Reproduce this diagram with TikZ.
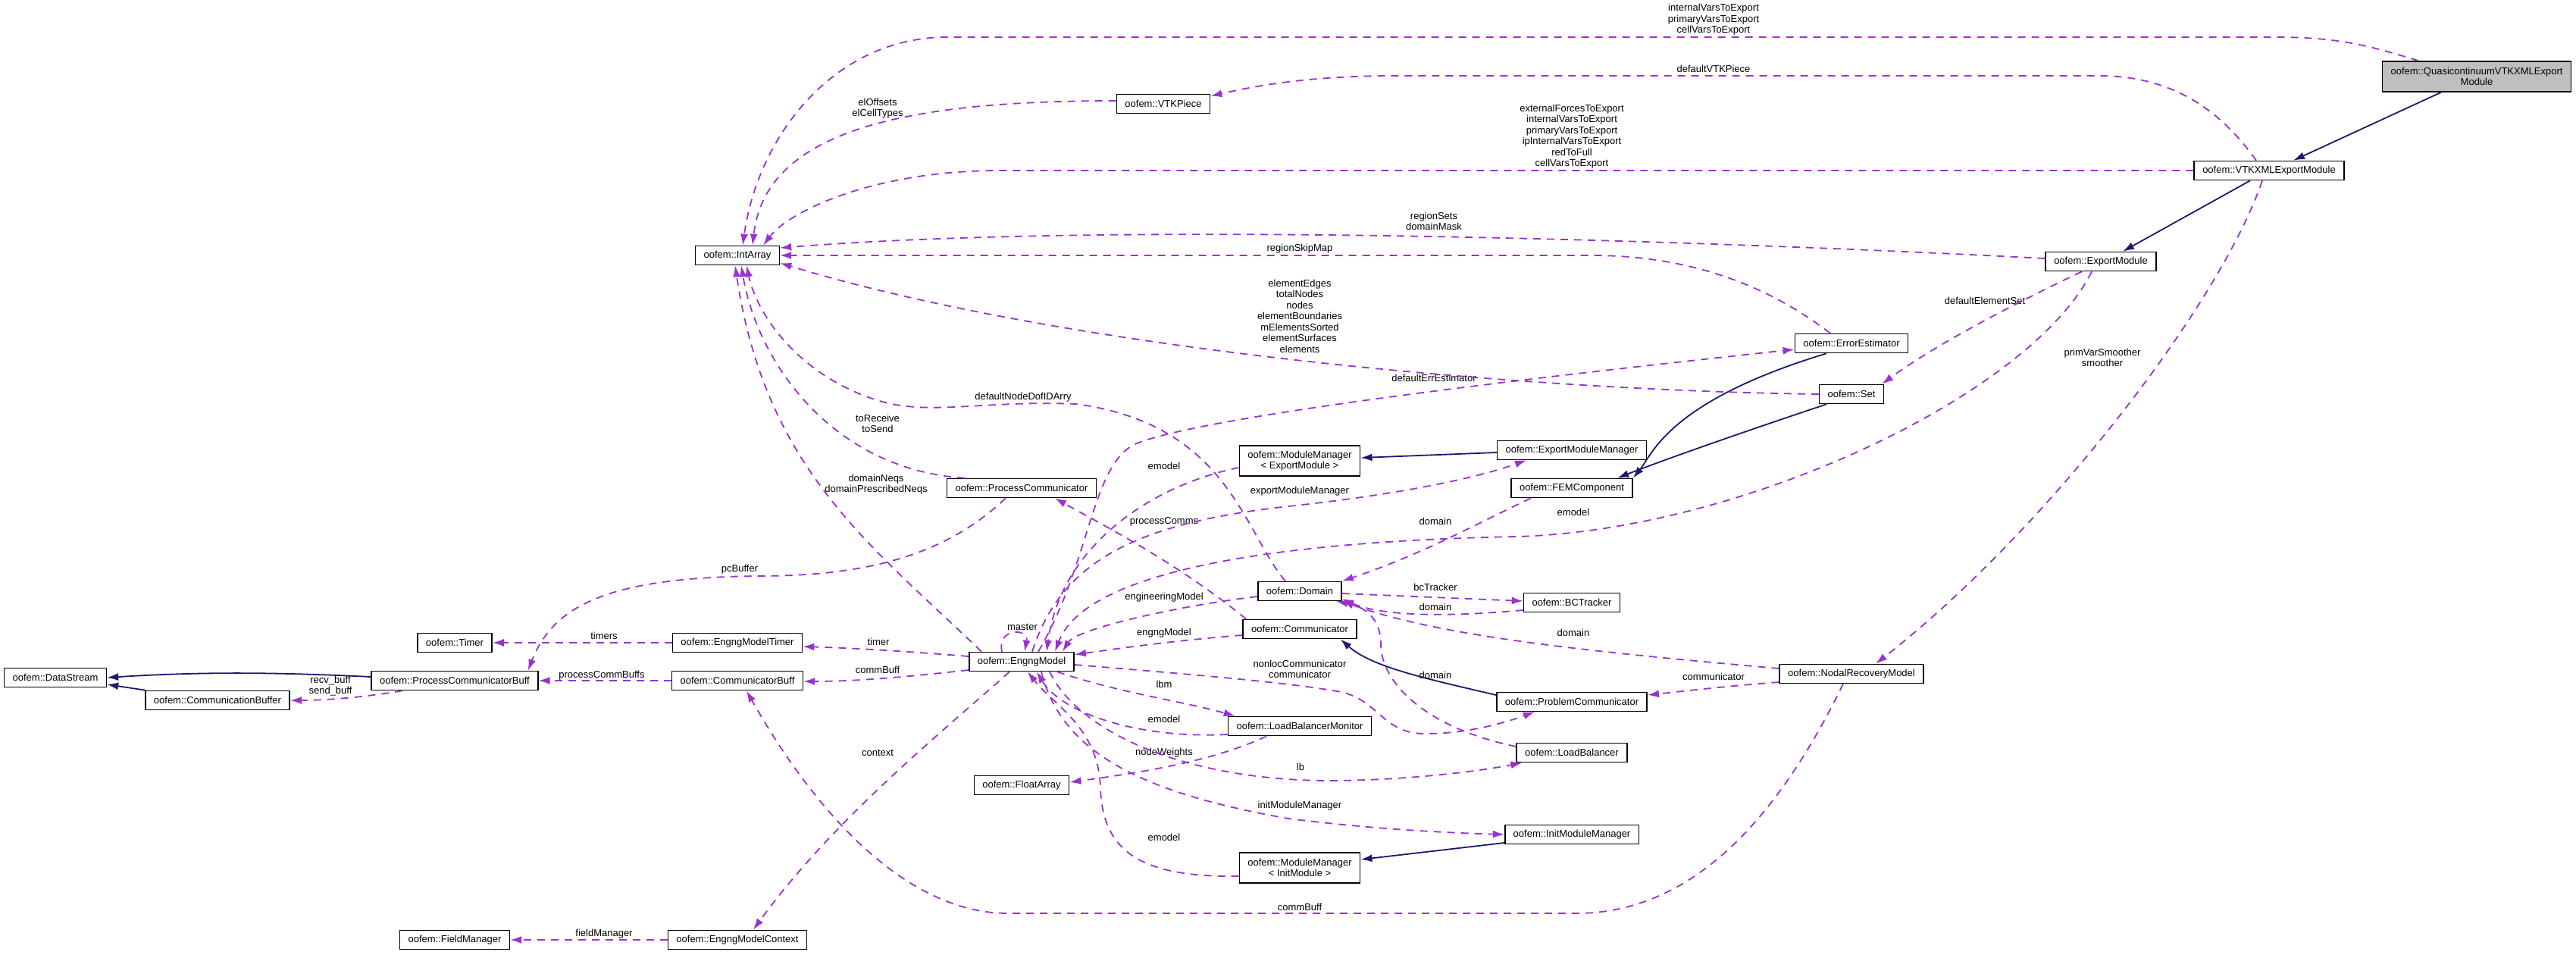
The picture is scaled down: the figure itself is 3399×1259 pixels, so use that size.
\documentclass[tikz,border=0pt]{standalone}
\usepackage{fontspec}
\setmainfont{Liberation Sans}
\usetikzlibrary{arrows.meta, positioning}
\definecolor{usecol}{HTML}{9A32CD}
\definecolor{inhcol}{HTML}{191970}
\definecolor{focusgrey}{HTML}{BFBFBF}

\begin{document}
\begin{tikzpicture}[x=0.5pt, y=-0.5pt]
\tikzstyle{cls}=[rectangle, draw=black, line width=0.8pt, fill=white, inner xsep=5.5pt, inner ysep=0pt, minimum height=12.5pt, align=center, font=\fontsize{6.5}{7.25}\selectfont]
\tikzstyle{lbl}=[inner sep=0pt, align=center, font=\fontsize{6.5}{7.25}\selectfont]
\tikzstyle{usage}=[-{Latex[length=7.5pt, width=5pt]}, dash pattern=on 5pt off 4pt, draw=usecol, line width=0.9pt]
\tikzstyle{inherit}=[-{Latex[length=7.5pt, width=5pt]}, draw=inhcol, line width=0.9pt]
\useasboundingbox (0,0) rectangle (3399,1259);

    \node[cls, fill=focusgrey, minimum height=20pt] (quasi) at (3268,101) {oofem::QuasicontinuumVTKXMLExport\\Module};
    \node[cls] (vtkxml) at (2994,225) {oofem::VTKXMLExportModule};
    \node[cls] (exportmod) at (2772,345) {oofem::ExportModule};
    \node[cls] (vtkpiece) at (1535,137) {oofem::VTKPiece};
    \node[cls] (intarray) at (973,337) {oofem::IntArray};
    \node[cls] (errest) at (2443,453) {oofem::ErrorEstimator};
    \node[cls] (set) at (2443,520) {oofem::Set};
    \node[cls] (expmodmgr) at (2074,594) {oofem::ExportModuleManager};
    \node[cls, minimum height=20pt] (modmgrexp) at (1715,608) {oofem::ModuleManager\\< ExportModule >};
    \node[cls] (femcomp) at (2074,644) {oofem::FEMComponent};
    \node[cls] (proccomm) at (1348,644) {oofem::ProcessCommunicator};
    \node[cls] (domain) at (1715,780) {oofem::Domain};
    \node[cls] (bctracker) at (2074,795) {oofem::BCTracker};
    \node[cls] (communicator) at (1715,830) {oofem::Communicator};
    \node[cls] (nodalrec) at (2443,889) {oofem::NodalRecoveryModel};
    \node[cls] (probcomm) at (2074,926) {oofem::ProblemCommunicator};
    \node[cls] (timer) at (600,848) {oofem::Timer};
    \node[cls] (engngtimer) at (973,848) {oofem::EngngModelTimer};
    \node[cls] (engng) at (1348,873) {oofem::EngngModel};
    \node[cls] (datastream) at (73,894) {oofem::DataStream};
    \node[cls] (pcbuff) at (600,898) {oofem::ProcessCommunicatorBuff};
    \node[cls] (commbuff) at (973,898) {oofem::CommunicatorBuff};
    \node[cls] (commbuffer) at (287,924) {oofem::CommunicationBuffer};
    \node[cls] (lbmonitor) at (1715,958) {oofem::LoadBalancerMonitor};
    \node[cls] (loadbal) at (2074,993) {oofem::LoadBalancer};
    \node[cls] (floatarray) at (1348,1036) {oofem::FloatArray};
    \node[cls] (initmodmgr) at (2074,1101) {oofem::InitModuleManager};
    \node[cls, minimum height=20pt] (modmgrinit) at (1715,1145) {oofem::ModuleManager\\< InitModule >};
    \node[cls] (fieldmgr) at (600,1240) {oofem::FieldManager};
    \node[cls] (engngctx) at (973,1240) {oofem::EngngModelContext};

    \node[lbl] (l-quasi) at (2261,26) {internalVarsToExport\\primaryVarsToExport\\cellVarsToExport};
    \node[lbl] (l-piece) at (2261,91) {defaultVTKPiece};
    \node[lbl] (l-elcell) at (1158,143) {elOffsets\\elCellTypes};
    \node[lbl] (l-vtkxml) at (2074,180) {externalForcesToExport\\internalVarsToExport\\primaryVarsToExport\\ipInternalVarsToExport\\redToFull\\cellVarsToExport};
    \node[lbl] (l-region) at (1892,292) {regionSets\\domainMask};
    \node[lbl] (l-skip) at (1715,328) {regionSkipMap};
    \node[lbl] (l-setmembers) at (1715,417) {elementEdges\\totalNodes\\nodes\\elementBoundaries\\mElementsSorted\\elementSurfaces\\elements};
    \node[lbl] (l-elset) at (2619,397) {defaultElementSet};
    \node[lbl] (l-errest) at (1892,499) {defaultErrEstimator};
    \node[lbl] (l-smoother) at (2774,472) {primVarSmoother\\smoother};
    \node[lbl] (l-dofid) at (1350,524) {defaultNodeDofIDArry};
    \node[lbl] (l-torecv) at (1158,559) {toReceive\\toSend};
    \node[lbl] (l-emodel1) at (1536,615) {emodel};
    \node[lbl] (l-neqs) at (1156,639) {domainNeqs\\domainPrescribedNeqs};
    \node[lbl] (l-expmgr) at (1715,648) {exportModuleManager};
    \node[lbl] (l-emodel2) at (2076,676) {emodel};
    \node[lbl] (l-domain1) at (1894,688) {domain};
    \node[lbl] (l-comms) at (1536,688) {processComms};
    \node[lbl] (l-pcbuffer) at (976,751) {pcBuffer};
    \node[lbl] (l-bctracker) at (1894,775) {bcTracker};
    \node[lbl] (l-engmodel) at (1536,788) {engineeringModel};
    \node[lbl] (l-domain2) at (1894,801) {domain};
    \node[lbl] (l-master) at (1349,827) {master};
    \node[lbl] (l-engngmodel) at (1536,835) {engngModel};
    \node[lbl] (l-domain3) at (2076,835) {domain};
    \node[lbl] (l-timers) at (797,839) {timers};
    \node[lbl] (l-timer) at (1159,847) {timer};
    \node[lbl] (l-commbuff1) at (1158,884) {commBuff};
    \node[lbl] (l-pcbuffs) at (794,891) {processCommBuffs};
    \node[lbl] (l-nonloc) at (1715,883) {nonlocCommunicator\\communicator};
    \node[lbl] (l-domain4) at (1894,891) {domain};
    \node[lbl] (l-communicator) at (2261,893) {communicator};
    \node[lbl] (l-lbm) at (1536,903) {lbm};
    \node[lbl] (l-buffs) at (436,905) {recv\_buff\\send\_buff};
    \node[lbl] (l-emodel3) at (1536,949) {emodel};
    \node[lbl] (l-context) at (1158,993) {context};
    \node[lbl] (l-weights) at (1536,993) {nodeWeights};
    \node[lbl] (l-lb) at (1716,1012) {lb};
    \node[lbl] (l-initmgr) at (1715,1063) {initModuleManager};
    \node[lbl] (l-emodel4) at (1536,1105) {emodel};
    \node[lbl] (l-commbuff2) at (1715,1197) {commBuff};
    \node[lbl] (l-fieldmgr) at (797,1232) {fieldManager};

    % inheritance
    \draw[inherit] ([xshift=-23.5pt]quasi.south) -- ([xshift=16pt]vtkxml.north);
    \draw[inherit] ([xshift=-12.5pt]vtkxml.south) -- ([xshift=14.5pt]exportmod.north);
    \draw[inherit] ([xshift=-16.5pt]errest.south) .. controls (2200,530) and (2180,600) .. (femcomp.north east);
    \draw[inherit] ([xshift=-16.5pt]set.south) .. controls (2300,570) and (2200,605) .. ([xshift=30pt]femcomp.north);
    \draw[inherit] ([yshift=-1.5pt]expmodmgr.west) -- ([yshift=2pt]modmgrexp.east);
    \draw[inherit] ([yshift=4.5pt]probcomm.west) .. controls (1880,895) and (1810,880) .. ([xshift=-11pt]communicator.south east);
    \draw[inherit] ([yshift=-5.5pt]initmodmgr.west) -- ([yshift=5.5pt]modmgrinit.east);
    \draw[inherit] ([yshift=2.5pt]pcbuff.west) .. controls (350,886) and (250,887) .. (datastream.east);
    \draw[inherit] ([xshift=0.5pt]commbuffer.north west) -- ([yshift=-4.5pt]datastream.east);

    % members
    \draw[usage] ([xshift=-38.5pt]quasi.north) .. controls (3120,58) and (3080,49) .. (3000,49) -- (1250,49) .. controls (1100,49) and (1000,180) .. ([xshift=3.5pt]intarray.north);
    \draw[usage] ([xshift=-8.5pt]vtkxml.north) .. controls (2940,160) and (2880,100) .. (2770,100) -- (1840,100) .. controls (1720,100) and (1650,115) .. ([yshift=-1.5pt]vtkpiece.north east);
    \draw[usage] ([yshift=2pt]vtkpiece.west) .. controls (1200,133) and (1010,170) .. ([xshift=10pt]intarray.north);
    \draw[usage] (vtkxml.west) -- (1320,225) .. controls (1150,225) and (1040,280) .. ([xshift=17pt]intarray.north);
    \draw[usage] ([xshift=-4.5pt]vtkxml.south) .. controls (2930,400) and (2700,700) .. ([xshift=16pt]nodalrec.north);
    \draw[usage] ([yshift=2pt]exportmod.west) .. controls (2300,320) and (1500,290) .. ([yshift=5pt]intarray.east);
    \draw[usage] ([xshift=-14pt]errest.north) .. controls (2350,390) and (2250,337) .. (2100,337) -- (intarray.east);
    \draw[usage] (set.west) .. controls (2000,515) and (1400,460) .. ([yshift=-5pt]intarray.east);
    \draw[usage] ([xshift=-12.5pt]exportmod.south) .. controls (2680,390) and (2560,450) .. ([xshift=-1.5pt]set.north east);
    \draw[usage] ([xshift=11pt]engng.north) .. controls (1440,740) and (1440,610) .. (1500,585) .. controls (1600,545) and (2100,490) .. ([yshift=-4pt]errest.west);
    \draw[usage] ([xshift=7pt]engng.north) .. controls (1400,740) and (1500,690) .. (1700,668) .. controls (1850,652) and (1950,630) .. ([xshift=-30pt]expmodmgr.south);
    \draw[usage] ([yshift=-4.5pt]modmgrexp.west) .. controls (1520,640) and (1400,720) .. ([xshift=16.5pt]engng.north);
    \draw[usage] ([xshift=-27pt]femcomp.south) .. controls (1950,690) and (1880,730) .. (domain.north east);
    \draw[usage] ([xshift=-6pt]exportmod.south) .. controls (2680,520) and (2300,700) .. (2000,708) .. controls (1650,715) and (1430,760) .. ([xshift=22pt]engng.north);
    \draw[usage] ([yshift=-3.5pt]domain.west) .. controls (1550,800) and (1420,830) .. ([xshift=27pt]engng.north);
    \draw[usage] ([yshift=-4pt]communicator.west) .. controls (1550,845) and (1480,855) .. ([yshift=-2pt]engng.north east);
    \draw[usage] ([xshift=2.5pt]communicator.north west) .. controls (1550,740) and (1450,690) .. ([xshift=22pt]proccomm.south);
    \draw[usage] ([xshift=-9.5pt]domain.north) .. controls (1640,700) and (1620,560) .. (1420,533) .. controls (1300,528) and (1230,548) .. (1164,530) .. controls (1060,500) and (1000,420) .. ([xshift=6pt]intarray.south);
    \draw[usage] ([xshift=-37.5pt]proccomm.north) .. controls (1100,620) and (1000,480) .. ([xshift=2.5pt]intarray.south);
    \draw[usage] ([xshift=-26.5pt]engng.north) .. controls (1150,720) and (1010,620) .. ([xshift=-1.5pt]intarray.south);
    \draw[usage] ([xshift=-10.5pt]proccomm.south) .. controls (1250,730) and (1150,760) .. (1000,760) .. controls (800,762) and (730,800) .. ([xshift=-7pt]pcbuff.north east);
    \draw[usage] (engngtimer.west) -- (timer.east);
    \draw[usage] ([yshift=3.5pt]engng.west) .. controls (1180,858) and (1120,855) .. ([yshift=-2.5pt]engngtimer.east);
    \draw[usage] ([yshift=-5.5pt]engng.west) .. controls (1180,895) and (1120,899) .. ([yshift=-0.5pt]commbuff.east);
    \draw[usage] (commbuff.west) -- (pcbuff.east);
    \draw[usage] ([xshift=-34.5pt]pcbuff.south) .. controls (480,920) and (430,924) .. (commbuffer.east);
    \draw[usage] ([xshift=-8pt]engng.south) .. controls (1250,960) and (1100,1080) .. ([xshift=10.5pt]engngctx.north);
    \draw[usage] (engngctx.west) -- (fieldmgr.east);
    \draw[usage] ([xshift=-5.5pt]nodalrec.south) .. controls (2360,1050) and (2250,1205) .. (2080,1205) -- (1330,1205) .. controls (1200,1205) and (1080,1080) .. ([xshift=6pt]commbuff.south);
    \draw[usage] ([yshift=3.5pt]nodalrec.west) .. controls (2100,860) and (1900,840) .. (domain.south east);
    \draw[usage] ([yshift=4pt]loadbal.west) .. controls (1880,960) and (1822,900) .. (1822,850) .. controls (1822,815) and (1800,800) .. ([xshift=-4pt]domain.south east);
    \draw[usage] ([yshift=-5.5pt]nodalrec.west) .. controls (2280,905) and (2220,912) .. ([yshift=4.5pt]probcomm.east);
    \draw[usage] ([yshift=-2pt]engng.east) .. controls (1550,888) and (1700,900) .. (1770,913) .. controls (1820,925) and (1825,968) .. (1880,968) .. controls (1940,968) and (1990,952) .. ([xshift=-24.5pt]probcomm.south);
    \draw[usage] ([yshift=-1.5pt]domain.east) -- ([yshift=1pt]bctracker.west);
    \draw[usage] ([yshift=-5pt]bctracker.west) .. controls (1900,815) and (1820,812) .. ([yshift=-5pt]domain.east);
    \draw[usage] ([xshift=23.5pt]engng.south) .. controls (1480,915) and (1560,925) .. ([xshift=5pt]lbmonitor.north west);
    \draw[usage] ([yshift=-5.5pt]lbmonitor.west) .. controls (1500,975) and (1400,940) .. ([xshift=10pt]engng.south);
    \draw[usage] ([xshift=-22pt]lbmonitor.south) .. controls (1600,1005) and (1500,1020) .. ([yshift=2pt]floatarray.east);
    \draw[usage] ([xshift=18.5pt]engng.south) .. controls (1420,960) and (1550,1028) .. (1750,1030) .. controls (1850,1030) and (1950,1018) .. ([xshift=4pt]loadbal.south west);
    \draw[usage] ([xshift=13pt]engng.south) .. controls (1400,990) and (1500,1045) .. (1700,1080) .. controls (1820,1095) and (1920,1099) .. (initmodmgr.west);
    \draw[usage] ([yshift=-5.5pt]modmgrinit.west) .. controls (1500,1158) and (1455,1120) .. (1452,1040) .. controls (1450,960) and (1390,930) .. ([xshift=4pt]engng.south);
    \draw[usage] ([xshift=-13pt]engng.north) .. controls (1315,828) and (1358,828) .. ([xshift=2pt]engng.north);
\end{tikzpicture}
\end{document}
